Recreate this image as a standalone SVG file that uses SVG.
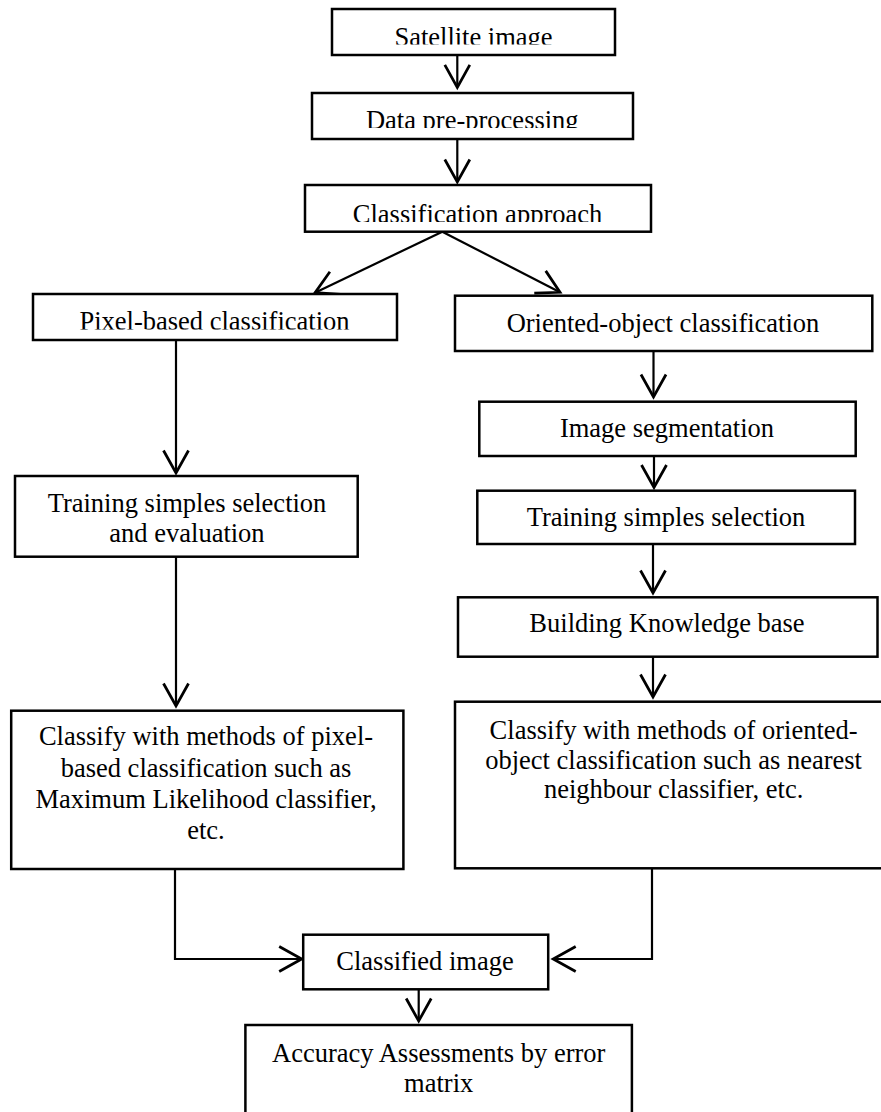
<svg xmlns="http://www.w3.org/2000/svg" width="881" height="1112" viewBox="0 0 881 1112">
<style>
.box{fill:#fff;stroke:#000;stroke-width:2.5}
.t{font-family:'Liberation Serif','Tinos','Times New Roman','DejaVu Serif',serif;font-size:26.5px;fill:#000;text-anchor:middle}
.c{fill:none;stroke:#000;stroke-width:2.2}
</style>
<defs>
<marker id="ah" markerUnits="userSpaceOnUse" markerWidth="30" markerHeight="30" viewBox="-20 -12 22 24" refX="0" refY="0" orient="auto">
<path d="M -18 -10 L 0 0 L -18 10" fill="none" stroke="#000" stroke-width="2.2"/>
</marker>
<clipPath id="c1"><rect x="332" y="9" width="283" height="35.5"/></clipPath>
<clipPath id="c2"><rect x="312" y="93" width="321" height="35"/></clipPath>
<clipPath id="c3"><rect x="305" y="185" width="346" height="37"/></clipPath>
<clipPath id="c4"><rect x="33" y="294" width="364" height="35.5"/></clipPath>
</defs>
<rect width="881" height="1112" fill="#fff"/>
<g id="connectors">
<line class="c" x1="457.3" y1="55" x2="457.3" y2="87.3" marker-end="url(#ah)"/>
<line class="c" x1="457.3" y1="139" x2="457.3" y2="182" marker-end="url(#ah)"/>
<line class="c" x1="442.3" y1="231.7" x2="315" y2="292.7" marker-end="url(#ah)"/>
<line class="c" x1="442.3" y1="231.7" x2="560" y2="292.3" marker-end="url(#ah)"/>
<line class="c" x1="176" y1="340" x2="176" y2="473" marker-end="url(#ah)"/>
<line class="c" x1="653.5" y1="351" x2="653.5" y2="397" marker-end="url(#ah)"/>
<line class="c" x1="654" y1="456" x2="654" y2="487.5" marker-end="url(#ah)"/>
<line class="c" x1="653" y1="544" x2="653" y2="593" marker-end="url(#ah)"/>
<line class="c" x1="176" y1="556.7" x2="176" y2="706" marker-end="url(#ah)"/>
<line class="c" x1="653" y1="656.7" x2="653" y2="697" marker-end="url(#ah)"/>
<polyline class="c" points="175,869 175,959 301.7,959" marker-end="url(#ah)"/>
<polyline class="c" points="652,868.3 652,959 553.2,959" marker-end="url(#ah)"/>
<line class="c" x1="418.7" y1="989.3" x2="418.7" y2="1021" marker-end="url(#ah)"/>
</g>
<g id="satellite">
<rect class="box" x="332" y="9" width="283" height="46"/>
<text class="t" x="473.5" y="45.5" clip-path="url(#c1)">Satellite image</text>
</g>
<g id="preprocessing">
<rect class="box" x="312" y="93" width="321" height="46"/>
<text class="t" x="472.3" y="128.5" clip-path="url(#c2)">Data pre-processing</text>
</g>
<g id="approach">
<rect class="box" x="305" y="185" width="346" height="46.7"/>
<text class="t" x="477.5" y="222.5" clip-path="url(#c3)">Classification approach</text>
</g>
<g id="pixel">
<rect class="box" x="33" y="294" width="364" height="46"/>
<text class="t" x="214.5" y="330" clip-path="url(#c4)">Pixel-based classification</text>
</g>
<g id="oriented">
<rect class="box" x="455" y="295.7" width="417.3" height="55.3"/>
<text class="t" x="663" y="332">Oriented-object classification</text>
</g>
<g id="segmentation">
<rect class="box" x="479.3" y="401.7" width="376.4" height="54.3"/>
<text class="t" x="667" y="437">Image segmentation</text>
</g>
<g id="training-right">
<rect class="box" x="477.3" y="490.7" width="377.7" height="53.3"/>
<text class="t" x="666" y="526">Training simples selection</text>
</g>
<g id="knowledge">
<rect class="box" x="458" y="597.3" width="419.5" height="59.4"/>
<text class="t" x="667" y="632">Building Knowledge base</text>
</g>
<g id="classify-right">
<rect class="box" x="455" y="701.7" width="440" height="166.6"/>
<text class="t" x="673.6" y="739">Classify with methods of oriented-</text>
<text class="t" x="673.6" y="768.5">object classification such as nearest</text>
<text class="t" x="673.6" y="798">neighbour classifier, etc.</text>
</g>
<g id="training-left">
<rect class="box" x="15" y="476" width="342.7" height="80.7"/>
<text class="t" x="187" y="512">Training simples selection</text>
<text class="t" x="187" y="542">and evaluation</text>
</g>
<g id="classify-left">
<rect class="box" x="11.2" y="710.7" width="392.2" height="158.3"/>
<text class="t" x="206" y="745">Classify with methods of pixel-</text>
<text class="t" x="206" y="776.5">based classification such as</text>
<text class="t" x="206" y="807.5">Maximum Likelihood classifier,</text>
<text class="t" x="206" y="838.5">etc.</text>
</g>
<g id="classified">
<rect class="box" x="303.2" y="934.7" width="245" height="54.6"/>
<text class="t" x="425" y="970">Classified image</text>
</g>
<g id="accuracy">
<rect class="box" x="245.4" y="1025" width="386.5" height="100"/>
<text class="t" x="438.7" y="1062">Accuracy Assessments by error</text>
<text class="t" x="438.7" y="1092">matrix</text>
</g>
</svg>
